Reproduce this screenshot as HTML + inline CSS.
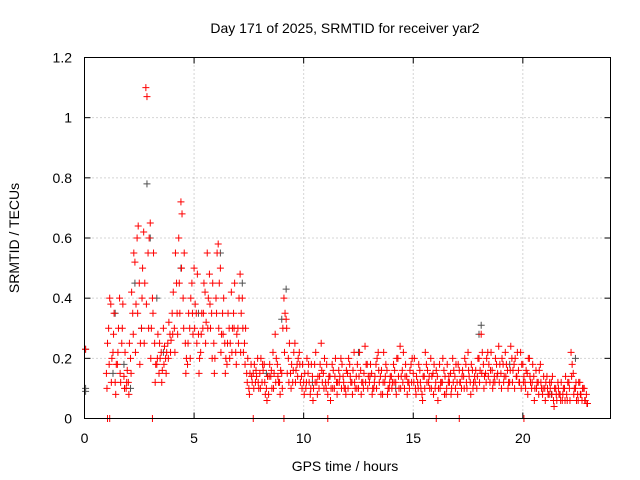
<!DOCTYPE html>
<html><head><meta charset="utf-8"><style>
html,body{margin:0;padding:0;background:#fff;}
svg{display:block;font-family:"Liberation Sans",sans-serif;}
</style></head><body>
<svg id="chart" width="640" height="480" viewBox="0 0 640 480" xmlns="http://www.w3.org/2000/svg">
<rect x="0" y="0" width="640" height="480" fill="#fff"/>
<g id="grid"></g>
<g id="marks"></g>
<rect x="84.5" y="57.5" width="526" height="361" fill="none" stroke="#000" stroke-width="1"/>
<g id="ticks"></g>
<text x="345" y="33" font-size="14" text-anchor="middle">Day 171 of 2025, SRMTID for receiver yar2</text>
<text x="345" y="471" font-size="14" text-anchor="middle">GPS time / hours</text>
<text transform="translate(19,238) rotate(-90)" font-size="14" text-anchor="middle">SRMTID / TECUs</text>
</svg>
<script>
const xTicks=[0,5,10,15,20];
const yTicks=[0,0.2,0.4,0.6,0.8,1,1.2];
const yTickLabels=["0","0.2","0.4","0.6","0.8","1","1.2"];
const seriesA=[.15,.30,.38,.22,.12,.18,.40,.25,.14,.10,.12,.20,.35,.52,.60,.45,.30,.62,1.10,.55,.65,.40,.25,.18,.15,.22,.30,.20,.25,.28,.35,.30,.45,.60,.72,.40,.25,.18,.30,.45,.50,.35,.28,.22,.30,.42,.55,.48,.35,.25,.40,.58,.50,.35,.25,.18,.30,.42,.35,.22,.30,.48,.40,.25,.15,.10,.18,.15,.12,.20,.15,.12,.18,.10,.08,.14,.22,.28,.18,.12,.15,.40,.33,.20,.15,.12,.25,.18,.22,.14,.12,.10,.15,.08,.14,.18,.12,.10,.25,.15,.12,.08,.14,.18,.10,.12,.16,.20,.14,.10,.15,.18,.12,.22,.14,.10,.16,.12,.24,.18,.12,.15,.10,.18,.22,.14,.08,.12,.16,.10,.14,.18,.12,.20,.24,.16,.10,.14,.12,.18,.15,.10,.12,.16,.08,.14,.18,.12,.20,.15,.10,.14,.18,.12,.16,.08,.12,.15,.20,.14,.12,.16,.10,.14,.18,.22,.12,.16,.14,.10,.20,.28,.18,.15,.22,.12,.16,.14,.18,.24,.15,.18,.22,.16,.12,.20,.18,.14,.16,.22,.18,.12,.15,.20,.10,.14,.16,.12,.18,.08,.10,.14,.08,.12,.06,.10,.12,.08,.06,.10,.08,.12,.22,.15,.10,.08,.12,.06,.10,.08];
const seriesB=[.25,.40,.20,.35,.18,.30,.12,.38,.22,.16,.25,.42,.55,.38,.64,.25,.50,.45,1.07,.60,.30,.55,.18,.28,.20,.16,.24,.22,.32,.26,.42,.55,.28,.35,.68,.55,.20,.35,.40,.28,.38,.48,.20,.35,.45,.32,.40,.30,.45,.20,.55,.45,.28,.40,.20,.35,.25,.30,.45,.28,.40,.35,.22,.30,.20,.15,.12,.18,.14,.10,.20,.16,.08,.14,.18,.10,.15,.20,.12,.16,.30,.35,.15,.25,.18,.22,.16,.20,.12,.18,.15,.20,.12,.18,.10,.22,.14,.18,.12,.20,.18,.14,.10,.16,.20,.12,.14,.18,.10,.16,.20,.12,.16,.10,.18,.22,.12,.15,.18,.14,.18,.10,.14,.20,.12,.16,.22,.18,.10,.14,.12,.16,.20,.10,.14,.22,.18,.12,.16,.20,.20,.14,.18,.10,.14,.22,.16,.10,.14,.18,.16,.10,.12,.20,.14,.18,.12,.10,.16,.18,.18,.12,.16,.20,.10,.14,.18,.12,.16,.20,.16,.22,.14,.20,.18,.22,.12,.20,.15,.18,.20,.14,.18,.12,.24,.16,.20,.22,.12,.18,.14,.16,.20,.12,.18,.10,.12,.16,.10,.14,.12,.08,.10,.14,.10,.06,.08,.12,.10,.14,.12,.06,.18,.10,.06,.12,.08,.10,.06,.05];
const seriesC=[.10,.18,.12,.28,.08,.22,.15,.30,.10,.12,.08,.15,.28,.22,.35,.18,.40,.25,.38,.30,.20,.35,.12,.20,.25,.12,.18,.15,.20,.22,.28,.22,.35,.45,.50,.30,.15,.25,.20,.35,.30,.25,.15,.28,.35,.25,.30,.38,.20,.15,.35,.30,.22,.28,.15,.25,.20,.22,.30,.18,.25,.22,.30,.18,.12,.08,.14,.10,.16,.12,.10,.18,.12,.06,.14,.16,.10,.12,.14,.08,.10,.22,.30,.12,.10,.16,.12,.14,.18,.10,.08,.12,.18,.10,.06,.12,.08,.14,.16,.10,.10,.12,.06,.10,.14,.08,.12,.10,.12,.08,.10,.14,.08,.12,.10,.14,.08,.10,.12,.10,.14,.08,.12,.10,.16,.08,.12,.14,.08,.12,.10,.12,.08,.14,.10,.12,.14,.08,.10,.12,.12,.08,.10,.12,.06,.10,.12,.14,.10,.08,.12,.06,.10,.12,.08,.10,.14,.08,.12,.10,.08,.12,.14,.10,.12,.16,.08,.10,.12,.14,.12,.15,.10,.12,.14,.16,.10,.12,.14,.12,.10,.12,.14,.10,.16,.12,.10,.14,.12,.10,.12,.10,.08,.14,.12,.06,.10,.08,.12,.10,.06,.10,.12,.08,.04,.08,.10,.06,.08,.06,.06,.10,.14,.08,.12,.06,.08,.10,.06,.05];
const grayTimes=[0.05,0.05,0.05,1.4,2.3,2.85,3.0,3.3,5.2,6.2,9.2,9.0,12.5,18.1,18.0,22.4,1.3,2.6,4.4,7.2,1.8,2.1,3.6,8.3,10.4,14.2,19.4,21.3];
const grayValues=[0.23,0.10,0.09,0.35,0.45,0.78,0.60,0.40,0.35,0.55,0.43,0.33,0.22,0.31,0.28,0.20,0.15,0.30,0.50,0.45,0.18,0.10,0.22,0.15,0.12,0.10,0.18,0.08];
const zeroTimes=[1.05,1.15,3.1,7.7,9.1,11.1,16.05,17.1,20.05];
const zeroValues=[0,0,0,0,0,0,0,0,0];
const startHour=1.0, stepHour=0.1;

const X0=84.5,X1=610.5,Y0=418.5,Y1=57.5;
const xs=t=>X0+(t/24)*(X1-X0);
const ys=v=>Y0-(v/1.2)*(Y0-Y1);
const NS="http://www.w3.org/2000/svg";
const grid=document.getElementById('grid'),ticks=document.getElementById('ticks'),marks=document.getElementById('marks');
function mk(tag,attrs,parent){const e=document.createElementNS(NS,tag);for(const k in attrs)e.setAttribute(k,attrs[k]);parent.appendChild(e);return e;}
xTicks.forEach(t=>{const x=xs(t);
 if(t>0){const g=mk('line',{x1:x,x2:x,y1:Y0,y2:Y1,stroke:'#aaa','stroke-dasharray':'1,3'},grid);
 
 }
 const l=mk('line',{x1:x,x2:x,y1:Y0,y2:Y0-6,stroke:'#000'},ticks);
 
 
 const l2=mk('line',{x1:x,x2:x,y1:Y1,y2:Y1+6,stroke:'#000'},ticks);
 
 
 const tx=mk('text',{x:x,y:443,'font-size':14,'text-anchor':'middle'},ticks);tx.textContent=String(t);
 
 
});
yTicks.forEach((v,i)=>{const y=ys(v);
 if(v>0&&v<1.2){const g=mk('line',{x1:X0,x2:X1,y1:y,y2:y,stroke:'#aaa','stroke-dasharray':'1,3'},grid);
 
 }
 const l=mk('line',{x1:X0,x2:X0+6,y1:y,y2:y,stroke:'#000'},ticks);
 
 
 const l2=mk('line',{x1:X1,x2:X1-6,y1:y,y2:y,stroke:'#000'},ticks);
 
 
 const tx=mk('text',{x:72,y:y+5,'font-size':14,'text-anchor':'end'},ticks);tx.textContent=yTickLabels[i];
 
 
});
function plus(t,v,color,name){const x=xs(t),y=ys(v);
 const p=mk('path',{d:`M${x-3.5},${y}h7M${x},${y-3.5}v7`,stroke:color,'stroke-width':1,fill:'none'},marks);
 
 
}
grayTimes.forEach((t,i)=>plus(t,grayValues[i],'#505050','gray-point'));
seriesC.forEach((v,i)=>plus(startHour+i*stepHour+0.025,v,'#ff0000','point-c'));
seriesA.forEach((v,i)=>plus(startHour+i*stepHour,v,'#ff0000','point-a'));
seriesB.forEach((v,i)=>plus(startHour+i*stepHour+0.05,v,'#ff0000','point-b'));
zeroTimes.forEach((t,i)=>plus(t,zeroValues[i],'#ff0000','zero-point'));
plus(0.05,0.23,'#ff0000','point-start');
</script>
</body></html>
